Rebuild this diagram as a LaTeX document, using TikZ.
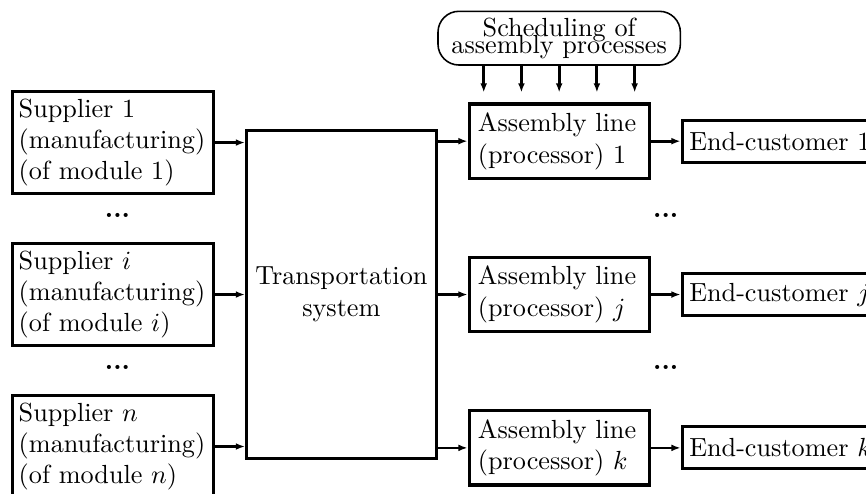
\documentclass[tikz,border=0pt]{standalone}
\usetikzlibrary{positioning,calc,arrows.meta}

\tikzset{
  box/.style={draw, line width=1.2pt, align=left},
  supbox/.style={box, text width=72pt, inner xsep=2.35pt, inner ysep=2.5pt, minimum height=38.8pt},
  asmbox/.style={box, text width=62pt, inner xsep=3.35pt, minimum height=27.4pt},
  custbox/.style={box, text width=70pt, inner xsep=2.7pt, minimum height=16pt},
  schedbox/.style={draw, line width=0.6pt, rounded corners=8pt, align=center, minimum width=92.5pt, minimum height=20.5pt, inner ysep=2pt},
  gapdots/.style={font=\bfseries},
  link/.style={-{Latex[length=3.5pt,width=2.6pt]}, line width=0.8pt},
  mainlink/.style={link, line width=1.2pt},
}

\begin{document}
\begin{tikzpicture}
\useasboundingbox (0,0) rectangle (330.5pt,-188.5pt);
\clip (0,0) rectangle (330.5pt,-188.5pt);

    \node [supbox] (s1) at (43.15pt,-54.4pt) {Supplier 1\\(manufacturing)\\(of module 1)};
    \node [supbox, below=18pt of s1] (si) {Supplier \(i\)\\(manufacturing)\\(of module \(i\))};
    \node [supbox, below=18pt of si] (sn) {Supplier \(n\)\\(manufacturing)\\(of module \(n\))};
    \node [gapdots, below=3.5pt of s1, xshift=1.7pt] (ds1) {...};
    \node [gapdots, below=3.5pt of si, xshift=1.7pt] (ds2) {...};

    \node [box, align=center, minimum width=70.6pt, minimum height=125.1pt, right=11.4pt of si] (tr) {Transportation\\system};

    \node [asmbox, right=11.4pt of tr] (aj) {Assembly line\\(processor) \(j\)};
    \node [asmbox, above=29pt of aj] (a1) {Assembly line\\(processor) 1};
    \node [asmbox, below=29pt of aj] (ak) {Assembly line\\(processor) \(k\)};

    \node [custbox, right=11.4pt of a1] (e1) {End-customer 1};
    \node [custbox, right=11.4pt of aj] (ej) {End-customer \(j\)};
    \node [custbox, right=11.4pt of ak] (ek) {End-customer \(k\)};
    \coordinate (gap) at ($(a1.east)!0.5!(e1.west)$);
    \node [gapdots] (dr1) at (gap |- ds1) {...};
    \node [gapdots] (dr2) at (gap |- ds2) {...};

    \node [schedbox, above=14pt of a1] (sch) {Scheduling of\\[-5.6pt]assembly processes};
    \foreach \dx in {-28.8,-14.4,0,14.4,28.8}
        \draw [mainlink, shorten >=3.8pt] ([xshift=\dx pt]sch.south) -- ([xshift=\dx pt]a1.north);

    \draw [mainlink] (s1.east) -- (s1.east -| tr.west);
    \draw [link] (si.east) -- (si.east -| tr.west);
    \draw [link] (sn.east) -- (sn.east -| tr.west);
    \draw [mainlink] (tr.east |- a1) -- (a1.west);
    \draw [link] (tr.east |- aj) -- (aj.west);
    \draw [link] (tr.east |- ak) -- (ak.west);
    \draw [mainlink] (a1.east) -- (a1.east -| e1.west);
    \draw [link] (aj.east) -- (aj.east -| ej.west);
    \draw [link] (ak.east) -- (ak.east -| ek.west);
\end{tikzpicture}
\end{document}
